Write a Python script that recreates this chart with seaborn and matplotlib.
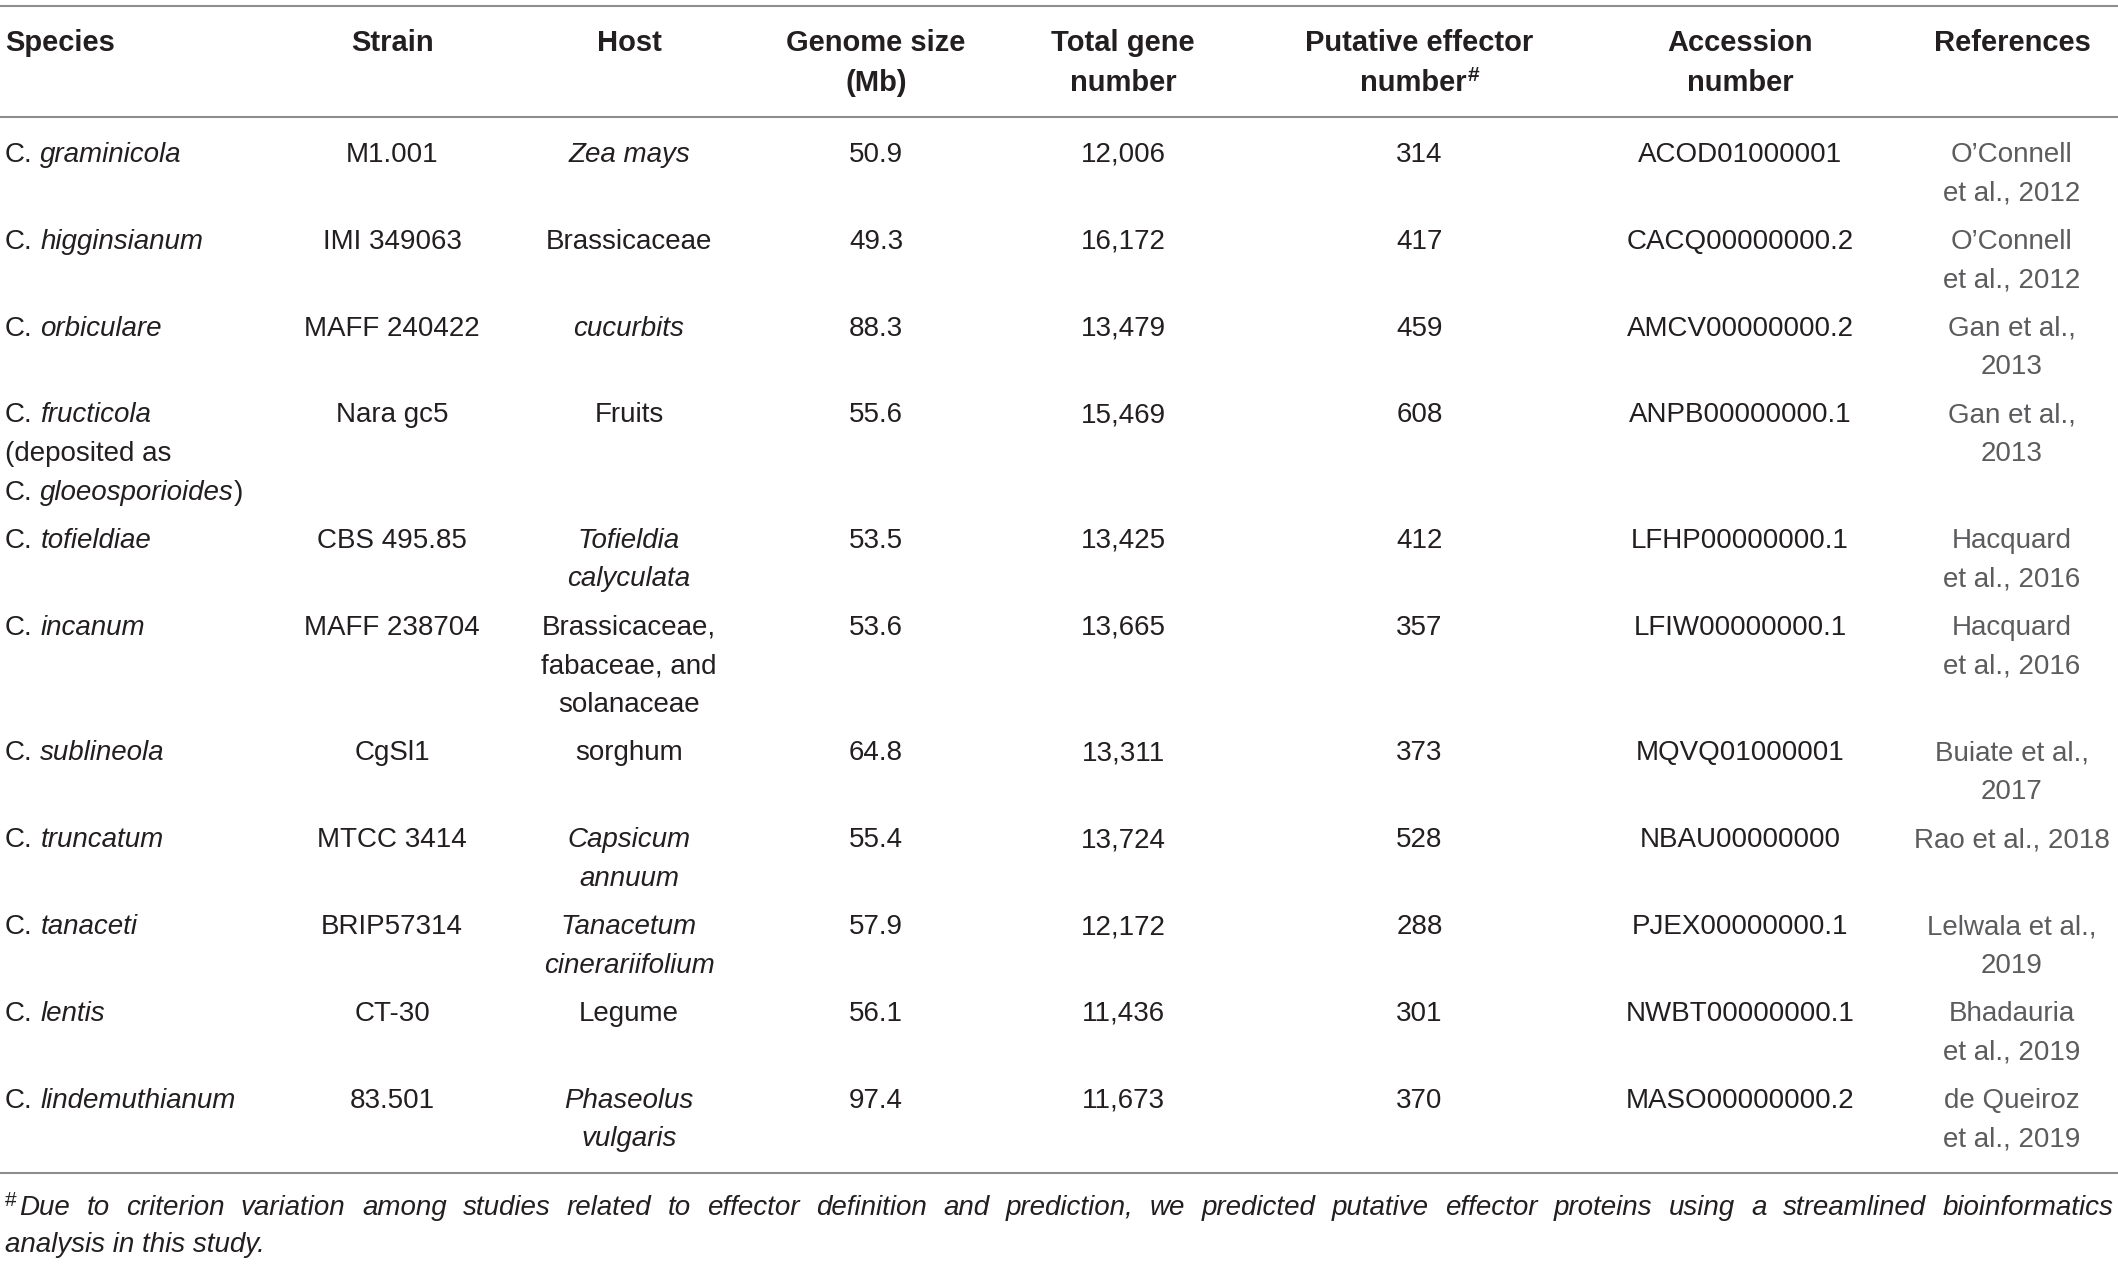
import matplotlib
matplotlib.use("Agg")
import matplotlib.pyplot as plt
import seaborn as sns

# table content
species = [
    "C. graminicola", "C. higginsianum", "C. orbiculare",
    "C. fructicola\n(deposited as\nC. gloeosporioides)",
    "C. tofieldiae", "C. incanum", "C. sublineola", "C. truncatum",
    "C. tanaceti", "C. lentis", "C. lindemuthianum",
]
strains = ["M1.001", "IMI 349063", "MAFF 240422", "Nara gc5", "CBS 495.85",
           "MAFF 238704", "CgSl1", "MTCC 3414", "BRIP57314", "CT-30", "83.501"]
hosts = ["Zea mays", "Brassicaceae", "cucurbits", "Fruits", "Tofieldia\ncalyculata",
         "Brassicaceae,\nfabaceae, and\nsolanaceae", "sorghum", "Capsicum\nannuum",
         "Tanacetum\ncinerariifolium", "Legume", "Phaseolus\nvulgaris"]
host_italic = [True, False, True, False, True, False, False, True, True, False, True]
genome_size = [50.9, 49.3, 88.3, 55.6, 53.5, 53.6, 64.8, 55.4, 57.9, 56.1, 97.4]
gene_number = [12006, 16172, 13479, 15469, 13425, 13665, 13311, 13724, 12172, 11436, 11673]
effector_number = [314, 417, 459, 608, 412, 357, 373, 528, 288, 301, 370]
accessions = ["ACOD01000001", "CACQ00000000.2", "AMCV00000000.2", "ANPB00000000.1",
              "LFHP00000000.1", "LFIW00000000.1", "MQVQ01000001", "NBAU00000000",
              "PJEX00000000.1", "NWBT00000000.1", "MASO00000000.2"]
references = ["O\u2019Connell\net al., 2012", "O\u2019Connell\net al., 2012",
              "Gan et al.,\n2013", "Gan et al.,\n2013", "Hacquard\net al., 2016",
              "Hacquard\net al., 2016", "Buiate et al.,\n2017", "Rao et al., 2018",
              "Lelwala et al.,\n2019", "Bhadauria\net al., 2019", "de Queiroz\net al., 2019"]
headers = ["Species", "Strain", "Host", "Genome size\n(Mb)", "Total gene\nnumber",
           "Putative effector\nnumber", "Accession\nnumber", "References"]
footnote = ["Due to criterion variation among studies related to effector definition "
            "and prediction, we predicted putative effector proteins using a streamlined "
            "bioinformatics",
            "analysis in this study."]

W, H = 2118, 1264
col_x = [5, 392, 629, 876, 1123, 1419.5, 1740, 2012]
TXT = "#231f20"
REF = "#5c5c5e"
RULE = "#8e8e8e"
FS = 20
LINE_H = 38.6
PAD = 9.7

sns.set_theme(style="white")
plt.rcParams["font.family"] = ["Liberation Sans", "DejaVu Sans"]

fig = plt.figure(figsize=(W / 100, H / 100), dpi=100)
ax = fig.add_axes([0, 0, 1, 1])
ax.set_xlim(0, W)
ax.set_ylim(H, 0)
ax.axis("off")
renderer = fig.canvas.get_renderer()


def width_of(s, **kw):
    t = ax.text(0, 0, s, **kw)
    w = t.get_window_extent(renderer).width
    t.remove()
    return w


SPACE = width_of("a a", fontsize=FS) - width_of("aa", fontsize=FS)


def species_segments(line):
    # genus abbreviation upright, epithet italic, closing bracket upright
    if not line.startswith("C. "):
        return [(line, "normal")]
    rest = line[3:]
    tail = []
    if rest.endswith(")"):
        rest = rest[:-1]
        tail = [(")", "normal")]
    return [("C.", "normal"), (" ", "normal"), (rest, "italic")] + tail


# rules
for y in [5.5, 116.5, 1173]:
    ax.axhline(y, color=RULE, lw=1.5)

# header
for j, h in enumerate(headers):
    for k, ln in enumerate(h.split("\n")):
        yb = 50.7 + k * 40
        if ln == "number" and j == 5:
            wn = width_of(ln, fontsize=21, weight="bold")
            ws = width_of("#", fontsize=15, weight="bold")
            x0 = col_x[j] - (wn + ws) / 2
            ax.text(x0, yb, ln, fontsize=21, weight="bold", color=TXT, va="baseline")
            ax.text(x0 + wn + 1, yb - 10, "#", fontsize=15, weight="bold", color=TXT,
                    va="baseline")
        else:
            ax.text(col_x[j], yb, ln, fontsize=21, weight="bold", color=TXT,
                    ha="left" if j == 0 else "center", va="baseline")

# body rows
y = 161.7
for i in range(len(species)):
    cells = [
        species[i], strains[i], hosts[i], f"{genome_size[i]:.1f}",
        f"{gene_number[i]:,}", str(effector_number[i]), accessions[i], references[i],
    ]
    nlines = max(c.count("\n") + 1 for c in cells)
    for j, cell in enumerate(cells):
        for k, ln in enumerate(cell.split("\n")):
            yb = y + k * LINE_H
            if j == 0:
                xx = col_x[0]
                for s, st in species_segments(ln):
                    if s == " ":
                        xx += SPACE
                        continue
                    ax.text(xx, yb, s, fontsize=FS, style=st, color=TXT, va="baseline")
                    xx += width_of(s, fontsize=FS, style=st)
            elif j == 2:
                ax.text(col_x[j], yb, ln, fontsize=FS, color=TXT, ha="center",
                        va="baseline", style="italic" if host_italic[i] else "normal")
            else:
                ax.text(col_x[j], yb, ln, fontsize=FS, ha="center", va="baseline",
                        color=REF if j == 7 else TXT)
    y += nlines * LINE_H + PAD

# footnote, first line justified
left, right = 5, 2113
ax.text(left, 1206, "#", fontsize=15, color=TXT, va="baseline")
first_x = left + width_of("#", fontsize=15) + 3
words = footnote[0].split(" ")
ww = [width_of(w, fontsize=FS, style="italic") for w in words]
gap = (right - first_x - sum(ww)) / (len(words) - 1)
xx = first_x
for w, wd in zip(words, ww):
    ax.text(xx, 1215, w, fontsize=FS, style="italic", color=TXT, va="baseline")
    xx += wd + gap
ax.text(left, 1252, footnote[1], fontsize=FS, style="italic", color=TXT, va="baseline")

fig.savefig("out.png", dpi=100, facecolor="white")
plt.close(fig)
